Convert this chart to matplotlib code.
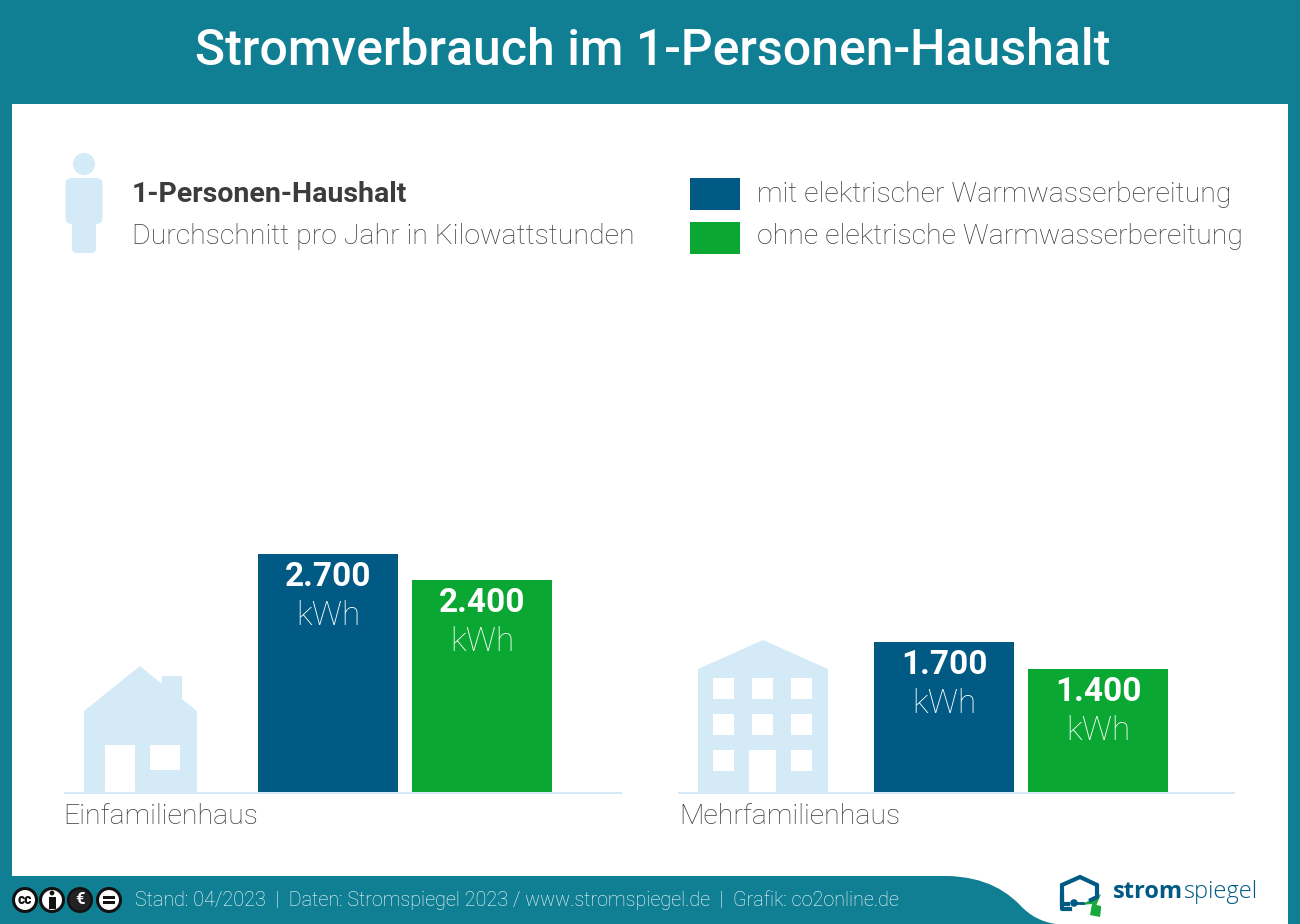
import matplotlib

matplotlib.use("Agg")
import matplotlib.pyplot as plt
import numpy as np
from matplotlib.patches import Circle, FancyBboxPatch, PathPatch, Polygon, Rectangle
from matplotlib.path import Path

# data
groups = ["Einfamilienhaus", "Mehrfamilienhaus"]
mit_warmwasser = [2700, 1700]
ohne_warmwasser = [2400, 1400]
series_labels = ["mit elektrischer Warmwasserbereitung", "ohne elektrische Warmwasserbereitung"]
title = "Stromverbrauch im 1-Personen-Haushalt"
footer = "Stand: 04/2023  |  Daten: Stromspiegel 2023 / www.stromspiegel.de  |  Grafik: co2online.de"

TEAL = "#107F93"
BLUE = "#005A84"
GREEN = "#0AA733"
ICON = "#D5EAF7"
TEXT = "#3C3C3C"

plt.rcParams["font.family"] = ["Roboto", "DejaVu Sans"]

fig = plt.figure(figsize=(13, 9.24), dpi=100, facecolor=TEAL)

# overlay in pixel coordinates for the page furniture
bg = fig.add_axes([0, 0, 1, 1])
bg.set_xlim(0, 1300)
bg.set_ylim(924, 0)
bg.axis("off")

bg.add_patch(Rectangle((12, 104), 1276, 772, fc="white", ec="none"))
wave = Path(
    [(930, 876), (975, 874), (1000, 885), (1020, 905), (1030, 916), (1042, 922), (1056, 924),
     (1288, 924), (1288, 876), (930, 876)],
    [Path.MOVETO, Path.CURVE4, Path.CURVE4, Path.CURVE4, Path.CURVE4, Path.CURVE4, Path.CURVE4,
     Path.LINETO, Path.LINETO, Path.CLOSEPOLY],
)
bg.add_patch(PathPatch(wave, fc="white", ec="none"))

bg.text(653, 51, title, color="white", fontsize=36, fontweight="medium", ha="center", va="center")

# person icon
bg.add_patch(Circle((84, 164), 11, fc=ICON, ec="none"))
bg.add_patch(FancyBboxPatch((69, 181), 31, 38, boxstyle="round,pad=0,rounding_size=5", fc=ICON, ec="none"))
bg.add_patch(FancyBboxPatch((65.5, 178), 37, 46, boxstyle="round,pad=0,rounding_size=6", fc=ICON, ec="none"))
bg.add_patch(FancyBboxPatch((72, 215), 24, 38, boxstyle="round,pad=0,rounding_size=5", fc=ICON, ec="none"))

bg.text(132, 194, "1-Personen-Haushalt", color=TEXT, fontsize=20.5, fontweight="bold", va="center")
bg.text(132, 236, "Durchschnitt pro Jahr in Kilowattstunden", color=TEXT, fontsize=20.5, fontweight="light", va="center")

# legend
bg.add_patch(Rectangle((690, 178), 50, 32, fc=BLUE, ec="none"))
bg.add_patch(Rectangle((690, 222), 50, 32, fc=GREEN, ec="none"))
bg.text(757, 194, series_labels[0], color=TEXT, fontsize=20.5, fontweight="light", va="center")
bg.text(757, 236, series_labels[1], color=TEXT, fontsize=20.5, fontweight="light", va="center")

# baselines
bg.plot([64, 622], [792.5, 792.5], color=ICON, lw=1.5, solid_capstyle="butt")
bg.plot([678, 1235], [792.5, 792.5], color=ICON, lw=1.5, solid_capstyle="butt")

# single family house
bg.add_patch(Polygon([(84, 711), (140, 666), (162, 684), (162, 676), (182, 676), (182, 699), (197, 711),
                      (197, 792), (84, 792)], fc=ICON, ec="none"))
bg.add_patch(Rectangle((105, 745), 30, 47, fc="white", ec="none"))
bg.add_patch(Rectangle((150, 745), 30, 25, fc="white", ec="none"))

# apartment block
bg.add_patch(Polygon([(698, 669), (763, 640), (828, 669), (828, 792), (698, 792)], fc=ICON, ec="none"))
for wx in (713, 752, 791):
    for wy in (678, 714):
        bg.add_patch(Rectangle((wx, wy), 21, 21, fc="white", ec="none"))
bg.add_patch(Rectangle((713, 750), 21, 21, fc="white", ec="none"))
bg.add_patch(Rectangle((791, 750), 21, 21, fc="white", ec="none"))
bg.add_patch(Rectangle((749, 750), 27, 42, fc="white", ec="none"))

# footer licence badges
for cx, sym in zip((25, 52, 80, 109), ("cc", "i", "e", "=")):
    bg.add_patch(Circle((cx, 900), 11.5, fc="white", ec="#111111", lw=2.2))
bg.text(25, 900, "cc", color="#111111", fontsize=10, fontweight="black", ha="center", va="center")
bg.add_patch(Circle((52, 893), 2.4, fc="#111111", ec="none"))
bg.add_patch(Rectangle((48.5, 896.5), 7, 12, fc="#111111", ec="none"))
bg.add_patch(Circle((80, 900), 10.5, fc="#222222", ec="none"))
bg.text(80, 900, "€", color="white", fontsize=12, fontweight="bold", ha="center", va="center")
bg.add_patch(Rectangle((103, 896), 12, 2.8, fc="#111111", ec="none"))
bg.add_patch(Rectangle((103, 901), 12, 2.8, fc="#111111", ec="none"))

bg.text(135, 900, footer, color="white", fontsize=14.2, fontweight="light", va="center")

# logo
bg.plot([1068, 1062, 1062, 1080, 1097, 1097, 1091], [904, 904, 885, 877, 885, 897, 900],
        color=BLUE, lw=3, solid_joinstyle="miter")
bg.plot([1062, 1062, 1070], [896, 909, 909], color=BLUE, lw=3)
bg.add_patch(Circle((1074, 903), 3.8, fc=BLUE, ec="none"))
bg.plot([1077, 1083], [903, 903], color=BLUE, lw=2)
bg.add_patch(Polygon([(1081, 905), (1101, 894), (1096, 906), (1101, 906), (1100, 916), (1092, 904)],
                     fc="#17A93C", ec="none"))
bg.add_patch(Polygon([(1092, 904), (1101, 906), (1100, 917), (1090, 915)], fc="#17A93C", ec="none"))
bg.text(1113, 892, "strom", color=BLUE, fontsize=17, fontweight="bold", va="center", family=["Open Sans", "DejaVu Sans"])
bg.text(1183, 892, "spiegel", color=BLUE, fontsize=17, fontweight="light", va="center", family=["Open Sans", "DejaVu Sans"])

# bars, y axis in kWh with baseline at pixel 792
PX_PER_KWH = 0.0882
ax = fig.add_axes([0, (924 - 792) / 924, 1, 500 / 924])
ax.patch.set_alpha(0)
ax.axis("off")
ax.set_xlim(-405 / 616, 895 / 616)
ax.set_ylim(0, 500 / PX_PER_KWH)

x = np.arange(len(groups))
offset = 77 / 616
width = 140 / 616
bars_a = ax.bar(x - offset, mit_warmwasser, width, color=BLUE)
bars_b = ax.bar(x + offset, ohne_warmwasser, width, color=GREEN)


def fmt_kwh(v):
    return f"{v:,}".replace(",", ".")


for bars in (bars_a, bars_b):
    for b in bars:
        cx = b.get_x() + b.get_width() / 2
        top = b.get_height()
        ax.annotate(fmt_kwh(int(top)), (cx, top), xytext=(0, -23), textcoords="offset pixels",
                    ha="center", va="center", color="white", fontsize=24, fontweight="bold",
                    annotation_clip=False)
        ax.annotate("kWh", (cx, top), xytext=(0, -62), textcoords="offset pixels",
                    ha="center", va="center", color="white", fontsize=24, fontweight="light")

for i, name in enumerate(groups):
    ax.annotate(name, (i, 0), xytext=(-342, -24), textcoords="offset pixels", ha="left", va="center",
                color=TEXT, fontsize=20.5, fontweight="light", annotation_clip=False)

fig.savefig("out.png", dpi=100, facecolor=TEAL)
